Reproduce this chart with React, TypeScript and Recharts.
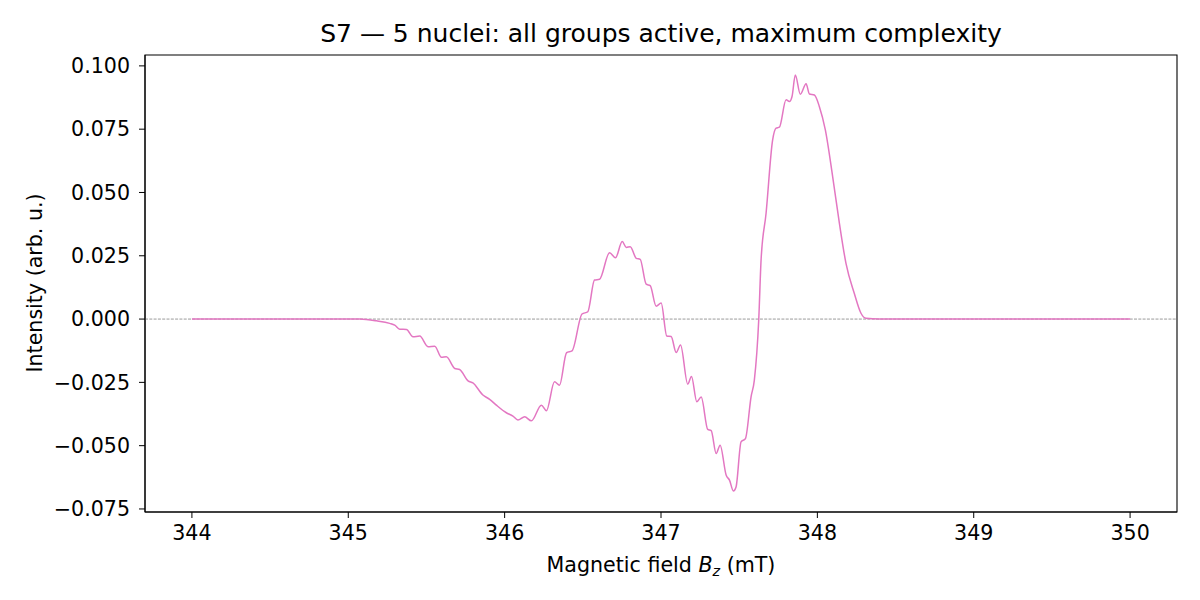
import { LineChart, Line, XAxis, YAxis, ReferenceLine, ReferenceArea } from 'recharts';

// EPR spectrum (field in mT, intensity in arb. u.)
const fieldValues = [
  344.0, 344.946, 345.073, 345.18, 345.265, 345.297, 345.329, 345.372, 345.414, 345.457,
  345.51, 345.553, 345.596, 345.627, 345.681, 345.712, 345.766, 345.797, 345.861, 345.904,
  345.947, 346.011, 346.053, 346.085, 346.128, 346.171, 346.235, 346.267, 346.319, 346.351,
  346.396, 346.431, 346.495, 346.532, 346.575, 346.607, 346.671, 346.709, 346.752, 346.778,
  346.803, 346.842, 346.867, 346.905, 346.931, 346.969, 347.001, 347.037, 347.065, 347.097,
  347.125, 347.171, 347.195, 347.229, 347.257, 347.299, 347.321, 347.353, 347.378, 347.417,
  347.438, 347.463, 347.48, 347.512, 347.54, 347.576, 347.597, 347.625, 347.64, 347.672,
  347.714, 347.736, 347.757, 347.8, 347.821, 347.838, 347.859, 347.891, 347.928, 347.949,
  347.981, 348.013, 348.051, 348.098, 348.141, 348.183, 348.236, 348.279, 348.311, 348.396,
  350.0,
];
const intensityValues = [
  0, 0, 0, -0.0007, -0.0017, -0.0024, -0.004, -0.0041, -0.007, -0.0067,
  -0.0109, -0.0107, -0.0151, -0.0149, -0.0195, -0.0199, -0.0244, -0.0252, -0.03, -0.0317,
  -0.034, -0.037, -0.0383, -0.0399, -0.0386, -0.0402, -0.034, -0.0362, -0.0248, -0.0261,
  -0.0133, -0.0126, 0.002, 0.0029, 0.0154, 0.0157, 0.0262, 0.0242, 0.0306, 0.0283,
  0.0286, 0.024, 0.0236, 0.0138, 0.0132, 0.0051, 0.0063, -0.0067, -0.0069, -0.0132,
  -0.0102, -0.0257, -0.0227, -0.0327, -0.0308, -0.0436, -0.0441, -0.0531, -0.0498, -0.0617,
  -0.0636, -0.0679, -0.0663, -0.0485, -0.0472, -0.0307, -0.0241, -0.0004, 0.0233, 0.0418,
  0.0708, 0.0754, 0.0758, 0.0866, 0.0859, 0.0879, 0.0964, 0.0888, 0.0929, 0.0889,
  0.0885, 0.0839, 0.0747, 0.0562, 0.0378, 0.022, 0.0102, 0.0023, 0.0003, 0,
  0,
];
const xTicks = [344, 345, 346, 347, 348, 349, 350];
const yTicks = [-0.075, -0.05, -0.025, 0, 0.025, 0.05, 0.075, 0.1];

const X_DOMAIN: [number, number] = [343.7, 350.3];
const Y_DOMAIN: [number, number] = [-0.0762, 0.1043];

const data = fieldValues.map((b, i) => ({ b, v: intensityValues[i] }));

const font = "'DejaVu Sans', sans-serif";
const TICK_FS = 20.6;
const fmtY = (v: number) => (v < 0 ? '\u2212' : '') + Math.abs(v).toFixed(3);

export default function App() {
  return (
    <div style={{ position: 'absolute', left: 0, top: 0, width: 1200, height: 600, background: '#fff' }}>
      <LineChart width={1200} height={600} data={data} margin={{ top: 55, right: 23, bottom: 28, left: 0 }}>
        <text x={661} y={42} textAnchor="middle" fontFamily={font} fontSize={25} fill="#000">
          S7 — 5 nuclei: all groups active, maximum complexity
        </text>
        <text
          x={42}
          y={283}
          transform="rotate(-90 42 283)"
          textAnchor="middle"
          fontFamily={font}
          fontSize={TICK_FS}
          fill="#000"
        >
          Intensity (arb. u.)
        </text>
        <XAxis
          dataKey="b"
          type="number"
          domain={X_DOMAIN}
          ticks={xTicks}
          allowDataOverflow
          height={60}
          tickSize={6}
          tickMargin={7}
          stroke="#000"
          tick={{ fill: '#000', fontSize: TICK_FS, fontFamily: font }}
          tickLine={{ stroke: '#000' }}
          label={({ viewBox }: any) => (
            <text
              x={viewBox.x + viewBox.width / 2}
              y={572}
              textAnchor="middle"
              fontFamily={font}
              fontSize={TICK_FS}
              fill="#000"
            >
              Magnetic field <tspan fontStyle="italic">B</tspan>
              <tspan fontStyle="italic" fontSize={14.4} dy={4}>z</tspan>
              <tspan dy={-4}> (mT)</tspan>
            </text>
          )}
        />
        <YAxis
          type="number"
          domain={Y_DOMAIN}
          ticks={yTicks}
          allowDataOverflow
          width={145}
          tickSize={6}
          tickMargin={9}
          stroke="#000"
          tickFormatter={fmtY}
          tick={{ fill: '#000', fontSize: TICK_FS, fontFamily: font }}
          tickLine={{ stroke: '#000' }}
        />
        <ReferenceArea
          x1={X_DOMAIN[0]}
          x2={X_DOMAIN[1]}
          y1={Y_DOMAIN[0]}
          y2={Y_DOMAIN[1]}
          fill="none"
          stroke="#000"
          strokeWidth={1.1}
          ifOverflow="extendDomain"
        />
        <ReferenceLine y={0} stroke="#808080" strokeWidth={0.8} strokeDasharray="3 1.3" />
        <Line
          type="monotone"
          dataKey="v"
          stroke="#e377c2"
          strokeWidth={1.5}
          dot={false}
          isAnimationActive={false}
        />
      </LineChart>
    </div>
  );
}
